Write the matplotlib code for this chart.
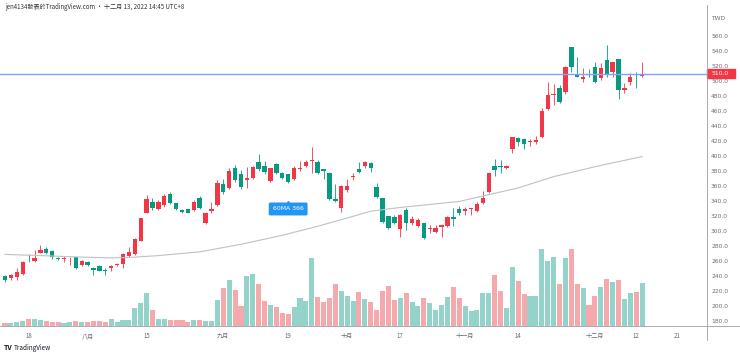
import matplotlib
matplotlib.use('Agg')
import matplotlib.pyplot as plt
from matplotlib.lines import Line2D
from matplotlib.patches import Rectangle

plt.rcParams['font.family'] = ['Noto Sans CJK TC', 'DejaVu Sans']

# daily OHLC (TWD), 2022-07-12 .. 2022-12-13
opens = [241, 238.6, 240, 243, 264, 261, 272, 276.7, 274.5, 265.2, 263, 263, 265.7, 255.4, 260, 251,
         254, 249, 251, 256, 257.5, 267.5, 270, 287.4, 324.2, 339.7, 329.8, 335, 349.5, 337.5, 328.6, 329.5,
         328.6, 345, 311.7, 327, 335, 363, 358, 385, 377, 368, 371.5, 392, 387, 367.6, 389.5, 377.6,
         376, 369.8, 383, 387, 394, 392, 382.6, 378, 342.8, 330.8, 355.2, 372, 382.6, 387, 391.5, 359.6,
         344, 320.6, 319.7, 303, 328.6, 311, 307.7, 310.8, 303, 299.7, 305.6, 307.3, 319, 329.6, 327, 329.5,
         327, 337.5, 352.8, 387, 387, 384.8, 409.5, 425, 422.6, 418.6, 419.5, 426, 462.5, 482, 490.4, 486,
         545, 509.5, 503.3, 509, 519, 503.7, 528, 512.5, 529.4, 488, 499, 500.5, 507]
highs = [242, 244, 251, 261, 269.6, 276, 282, 279, 275, 266.5, 267, 266, 266, 262, 261, 253,
         255, 251, 255, 258.5, 271, 279, 291.7, 318, 348, 344, 342, 350, 352.5, 338, 330, 330,
         342, 347, 326, 339.7, 368.6, 370, 384, 389, 381.6, 386, 387, 402.6, 394, 385, 391.6, 379,
         377, 387, 393.7, 395, 412, 395, 383, 379, 362.6, 362, 369.8, 377.6, 392, 394, 392.5, 364,
         345, 321, 322, 323, 331, 320, 318, 312, 309, 308.6, 309.6, 320.5, 331.6, 334, 333, 331,
         339.7, 354, 379, 397, 395, 388, 426, 426, 424, 423, 427.5, 463.7, 499, 495.7, 494.8, 520,
         546, 531.6, 517, 515.7, 526, 523.6, 548, 526, 530, 497, 511, 512.5, 526]
lows = [233, 236, 235.6, 242, 260, 260, 271, 270, 264, 262, 260, 256, 250, 254, 254, 242,
        247, 242, 248, 254, 252, 266, 269, 287, 324, 329, 329, 333, 336, 328, 324, 324,
        327, 330, 310, 325, 334, 350, 356, 366, 357, 358, 370, 380, 377, 366, 376, 370,
        365, 368, 381, 386, 377.6, 376, 369.4, 342, 339.7, 326.4, 353, 369, 377.6, 385, 379.5, 345,
        311, 303, 310, 293, 302, 309, 306, 290, 298.5, 298, 293, 306, 307.3, 322, 322, 322,
        326, 336, 350.6, 373.8, 377.6, 383.5, 404, 413.7, 410, 414, 416, 425, 461, 468, 470.5, 483,
        512.5, 505, 499, 505, 498, 502, 505, 505.8, 476, 484.6, 495, 490.4, 506]
closes = [236, 242, 246.5, 260, 263, 265, 275.6, 271, 265.6, 263, 265, 264, 251, 260.7, 255.4, 248.6,
          247.5, 248, 254, 257, 270, 272.3, 289.6, 317.6, 342.8, 330.8, 339.7, 347, 337.5, 329.5, 325.5, 325,
          339.7, 331.6, 324.2, 330, 364, 352, 381, 369, 359.6, 371.5, 386, 383, 379.5, 384, 377.6, 371.6,
          366.5, 384, 384, 392, 395.5, 377.6, 380.8, 342.8, 341, 361, 360.5, 374, 379.5, 392.8, 384, 346.3,
          313, 305, 310.8, 322, 311.7, 316.6, 315, 291.7, 305, 305, 308.6, 319.7, 316.6, 324, 329.5, 330.8,
          336.6, 344, 378, 381.6, 386, 387, 425.3, 419.5, 416.4, 420.6, 421.6, 460, 481.5, 483, 472.6, 519,
          518.4, 505.8, 505, 508, 499, 517, 510, 525, 488, 491, 505, 499.7, 510]

# volume (relative units, as drawn)
volume = [10, 10, 12, 15, 20, 20, 18, 16, 13, 11, 10, 12, 16, 12, 12, 15,
          15, 12, 20, 13, 18, 18, 56, 70, 100, 48, 21, 20, 18, 18, 18, 11,
          18, 18, 16, 16, 80, 116, 141, 111, 61, 153, 158, 130, 78, 63, 58, 41,
          37, 58, 85, 78, 208, 90, 75, 85, 130, 108, 93, 78, 105, 83, 73, 48,
          108, 123, 81, 85, 100, 73, 61, 85, 71, 50, 63, 90, 120, 85, 60, 46,
          48, 101, 101, 156, 106, 55, 181, 138, 98, 93, 91, 236, 198, 210, 130, 208,
          236, 128, 118, 63, 93, 120, 145, 136, 140, 83, 100, 105, 131]

# 60-day moving average, read at a few points (bar index, price)
ma_idx = [0, 6, 13, 18, 21, 26, 33, 40, 47, 53, 58, 62, 67, 72, 77, 82, 87, 93, 101, 108]
ma_val = [269.6, 268, 266, 265, 265.5, 268, 273, 283, 295, 307, 318, 327, 332, 336, 340, 349, 358, 373, 388, 399.6]

tick_idx = [4, 14, 24, 37, 48, 58, 67, 78, 87, 100, 107, 114]
tick_lab = ['18', '八月', '15', '九月', '19', '十月', '17', '十一月', '14', '十二月', '12', '21']
price_ticks = [180, 200, 220, 240, 260, 280, 300, 320, 340, 360, 380, 400, 420, 440, 460, 480, 500, 520, 540, 560]
last_price = 510.0
ma_label = '60MA 366'

UP = '#f23645'
DOWN = '#089981'
VUP = '#94d3c9'
VDOWN = '#f6a9ad'

W, H = 740, 357
def fx(p):
    return p / W
def fy(p):
    return 1 - p / H

fig = plt.figure(figsize=(7.4, 3.57), dpi=100)
ax = fig.add_axes([0, fy(326), fx(707), fy(12) - fy(326)])
ax2 = ax.twinx()
ax.set_zorder(2)
ax.patch.set_visible(False)

n = len(closes)
xs = list(range(n))

# volume
vcol = [VUP if closes[i] >= opens[i] else VDOWN for i in xs]
ax2.bar(xs, volume, width=0.86, color=vcol, linewidth=0)
ax2.set_ylim(0, 236 * 314 / 77)

# candles
for i in xs:
    o, h, l, c = opens[i], highs[i], lows[i], closes[i]
    col = UP if c >= o else DOWN
    ax.vlines(i, l, h, color=col, linewidth=0.6)
    bot = min(o, c)
    hgt = max(abs(c - o), 0.9)
    ax.bar(i, hgt, bottom=bot, width=0.74, color=col, linewidth=0)

ax.plot(ma_idx, ma_val, color='#bfc1c6', linewidth=0.8)
ax.axhline(last_price, color='#7fa3f5', linewidth=1.0)

ax.set_xlim(-0.85, 119.0)
ax.set_ylim(174.4, 591.9)
for a in (ax, ax2):
    a.set_xticks([])
    a.set_yticks([])
    for s in a.spines.values():
        s.set_visible(False)

# axis lines
fig.add_artist(Line2D([fx(707), fx(707)], [fy(5), fy(340)], color='#9a9ea8', linewidth=0.6))
fig.add_artist(Line2D([fx(0), fx(740)], [fy(326), fy(326)], color='#9a9ea8', linewidth=0.6))

# price labels
for p in price_ticks:
    py = 36 + (560 - p) * 15.04 / 20
    fig.text(fx(711), fy(py), f'{p:.1f}', fontsize=4.3, color='#6a6d78', va='center', ha='left',
             family='DejaVu Sans')
fig.text(fx(711), fy(19), 'TWD', fontsize=4.3, color='#6a6d78', va='center', ha='left', family='DejaVu Sans')

# last price tag
ty = 36 + (560 - last_price) * 15.04 / 20
fig.add_artist(Rectangle((fx(707), fy(ty + 4.5)), fx(28), fy(0) - fy(9), color=UP,
                         transform=fig.transFigure))
fig.text(fx(711), fy(ty), f'{last_price:.1f}', fontsize=4.3, color='white', va='center', ha='left',
         family='DejaVu Sans')

# time labels
for i, lab in zip(tick_idx, tick_lab):
    ax.text(i, -0.02, lab, transform=ax.get_xaxis_transform(), fontsize=4.4, color='#6a6d78',
            ha='center', va='top')

# 60MA label
ax.text(48, 330, ma_label, fontsize=4.4, color='white', ha='center', va='center', family='DejaVu Sans',
        bbox=dict(boxstyle='round,pad=0.65,rounding_size=0.25', fc='#2196f3', ec='none'))
ax.plot([48], [337.5], marker='^', markersize=3, color='#2196f3', clip_on=False)

# header and footer
fig.text(fx(5), fy(7), 'jen4134發表於TradingView.com · 十二月 13, 2022 14:45 UTC+8', fontsize=4.4,
         color='#333333', va='center', ha='left')
fig.text(fx(4), fy(348), 'TV', fontsize=5, color='#131722', va='center', ha='left', weight='bold')
fig.text(fx(14), fy(348), 'TradingView', fontsize=4.6, color='#131722', va='center', ha='left')

fig.savefig('out.png', dpi=100, facecolor='white')
